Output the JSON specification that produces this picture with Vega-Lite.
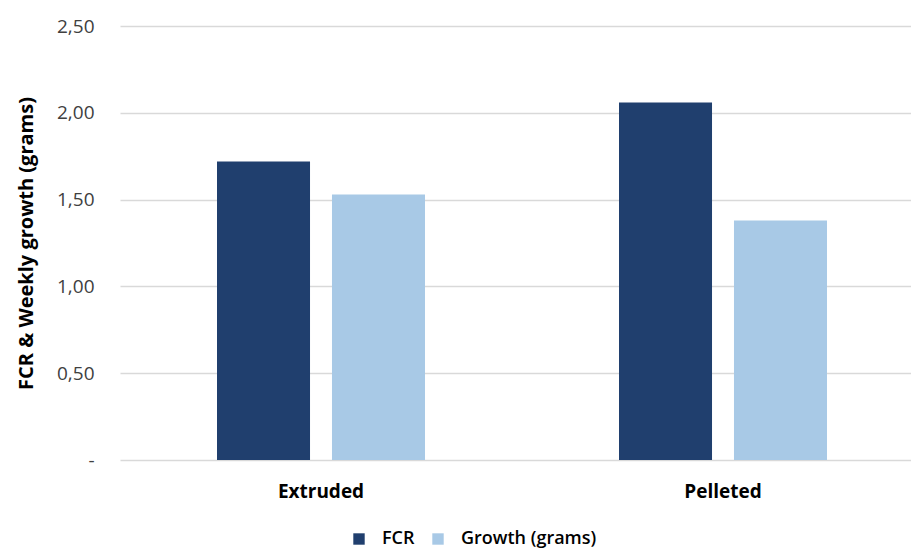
{
  "$schema": "https://vega.github.io/schema/vega-lite/v6.json",
  "width": 791,
  "height": 434,
  "autosize": {"type": "none"},
  "padding": {"left": 120, "top": 26, "right": 0, "bottom": 89},
  "background": "#ffffff",
  "config": {
    "font": "Open Sans",
    "view": {"stroke": null}
  },
  "data": {
    "values": [
      {"method": "Extruded", "series": "FCR", "value": 1.72},
      {"method": "Extruded", "series": "Growth (grams)", "value": 1.53},
      {"method": "Pelleted", "series": "FCR", "value": 2.06},
      {"method": "Pelleted", "series": "Growth (grams)", "value": 1.38}
    ]
  },
  "mark": {"type": "bar"},
  "encoding": {
    "x": {
      "field": "method",
      "type": "nominal",
      "sort": ["Extruded", "Pelleted"],
      "scale": {"range": [0, 804], "paddingInner": 0.4826, "paddingOuter": 0.2413},
      "axis": {
        "title": null,
        "labelAngle": 0,
        "domain": false,
        "ticks": false,
        "labelPadding": 22,
        "labelFont": "Open Sans",
        "labelFontWeight": "bold",
        "labelFontSize": 19,
        "labelColor": "#000000"
      }
    },
    "xOffset": {
      "field": "series",
      "type": "nominal",
      "scale": {"paddingInner": 0.191, "paddingOuter": 0}
    },
    "y": {
      "field": "value",
      "type": "quantitative",
      "scale": {"domain": [0, 2.5], "nice": false},
      "axis": {
        "title": "FCR & Weekly growth (grams)",
        "titleFont": "Open Sans",
        "titleFontWeight": "bold",
        "titleFontSize": 20,
        "titleColor": "#000000",
        "titlePadding": 20,
        "values": [0, 0.5, 1, 1.5, 2, 2.5],
        "labelExpr": "datum.value == 0 ? '-' : replace(format(datum.value, '.2f'), '.', ',')",
        "labelFontSize": 19,
        "labelColor": "#404040",
        "labelPadding": 26,
        "domain": false,
        "ticks": false,
        "gridColor": "#d9d9d9",
        "gridWidth": 1.5,
        "gridOpacity": 1
      }
    },
    "color": {
      "field": "series",
      "type": "nominal",
      "scale": {"domain": ["FCR", "Growth (grams)"], "range": ["#203f6e", "#a8c9e6"]},
      "legend": {
        "title": null,
        "orient": "none",
        "legendX": 230,
        "legendY": 504,
        "direction": "horizontal",
        "symbolType": "square",
        "symbolSize": 130,
        "symbolStrokeWidth": 0,
        "labelFont": "Open Sans",
        "labelFontWeight": 600,
        "labelFontSize": 18,
        "labelColor": "#000000",
        "labelOffset": 14,
        "columnPadding": 14
      }
    }
  }
}
